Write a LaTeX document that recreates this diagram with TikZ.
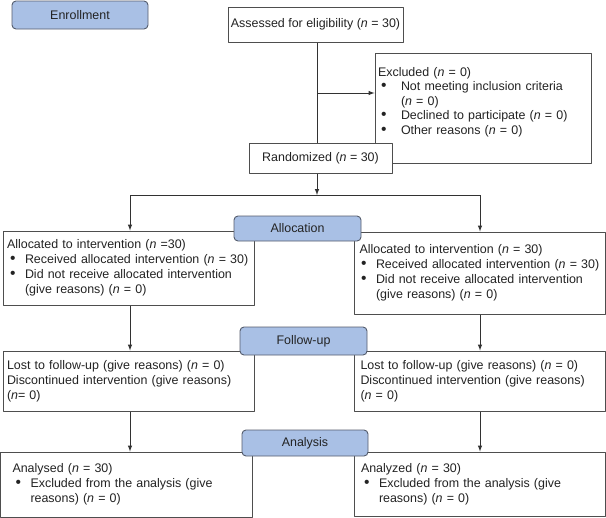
\documentclass[tikz,border=0pt]{standalone}
\usepackage{fontspec}
\setmainfont{Liberation Sans}
\definecolor{phasefill}{RGB}{169,192,229}
\definecolor{phasedraw}{RGB}{84,92,108}
\definecolor{boxdraw}{RGB}{78,78,78}
\definecolor{linkdraw}{RGB}{50,50,50}
\definecolor{textgray}{RGB}{35,35,35}
\newcommand{\nn}{\textit{n}}
\newcommand{\bul}[1][18bp]{\makebox[#1][l]{\hspace{3bp}\scalebox{1.25}{\textbullet}}}
\tikzset{
  phase/.style={draw=phasedraw,fill=phasefill,rounded corners=4bp,line width=0.9bp,inner sep=0pt},
  stage/.style={draw=boxdraw,fill=white,line width=1bp,inner ysep=0pt,align=left},
  link/.style={draw=linkdraw,line width=1bp},
}
\begin{document}
\begin{tikzpicture}[>=latex,line join=bevel,every node/.style={font=\fontsize{12.45bp}{15bp}\selectfont,text=textgray}]
\useasboundingbox (0bp,0bp) rectangle (606bp,-518bp);
%%
\node (enroll) at (80bp,-15bp) [phase,minimum width=136bp,minimum height=28bp] {Enrollment};
  \node (assessed) at (315.5bp,-24.5bp) [stage,minimum width=175bp,minimum height=35bp,inner xsep=0pt] {Assessed for eligibility (\nn{} = 30)};
  \node (excluded) at (483bp,-108bp) [stage,minimum width=216bp,minimum height=110bp,inner xsep=3bp,text width=210bp,font=\fontsize{12.45bp}{14.5bp}\selectfont] {Excluded (\nn{} = 0)\\ \bul[23bp]Not meeting inclusion criteria\\ \hspace*{23bp}(\nn{} = 0)\\ \bul[23bp]Declined to participate (\nn{} = 0)\\ \bul[23bp]Other reasons (\nn{} = 0)\\ \mbox{}};
  \node (random) at (320.5bp,-158bp) [stage,minimum width=143bp,minimum height=30bp,inner xsep=0pt] {Randomized (\nn{} = 30)};
  \node (allocL) at (128.5bp,-268bp) [stage,minimum width=251bp,minimum height=74bp,inner xsep=4bp,text width=243bp] {Allocated to intervention (\nn{} =30)\\ \bul Received allocated intervention (\nn{} = 30)\\ \bul Did not receive allocated intervention\\ \hspace*{18bp}(give reasons) (\nn{} = 0)};
  \node (allocR) at (479.5bp,-273bp) [stage,minimum width=251bp,minimum height=82bp,inner xsep=4bp,text width=243bp] {\hspace*{1.5bp}Allocated to intervention (\nn{} = 30)\\ \bul Received allocated intervention (\nn{} = 30)\\ \bul Did not receive allocated intervention\\ \hspace*{18bp}(give reasons) (\nn{} = 0)};
  \node (followL) at (128.5bp,-381bp) [stage,minimum width=251bp,minimum height=60bp,inner xsep=4bp,text width=243bp] {Lost to follow-up (give reasons) (\nn{} = 0)\\ Discontinued intervention (give reasons)\\ (\nn{}= 0)};
  \node (followR) at (479.5bp,-381bp) [stage,minimum width=251bp,minimum height=60bp,inner xsep=6.5bp,text width=238bp] {Lost to follow-up (give reasons) (\nn{} = 0)\\ Discontinued intervention (give reasons)\\ (\nn{} = 0)};
  \node (analysisL) at (126.25bp,-484.5bp) [stage,minimum width=251.5bp,minimum height=65bp,inner xsep=12bp,text width=227.5bp] {Analysed (\nn{} = 30)\\ \bul Excluded from the analysis (give\\ \hspace*{18bp}reasons) (\nn{} = 0)};
  \node (analysisR) at (479.5bp,-484bp) [stage,minimum width=251bp,minimum height=64bp,inner xsep=7bp,text width=237bp] {Analyzed (\nn{} = 30)\\ \bul Excluded from the analysis (give\\ \hspace*{18bp}reasons) (\nn{} = 0)};
%
  \coordinate (split) at (317bp,-93bp);
  \coordinate (branch) at (317bp,-195bp);
  \coordinate (branchL) at (130bp,-195bp);
  \coordinate (branchR) at (480bp,-195bp);
  \draw [link] (assessed.south -| split) -- (random.north -| split);
  \draw [link,->] (split) -- (excluded.west |- split);
  \draw [link,->] (random.south -| branch) -- (branch);
  \draw [link] (branchL) -- (branchR);
  \draw [link,->] (branchL) -- (allocL.north -| branchL);
  \draw [link,->] (branchR) -- (allocR.north -| branchR);
  \draw [link,->] (allocL.south -| branchL) -- (followL.north -| branchL);
  \draw [link,->] (allocR.south -| branchR) -- (followR.north -| branchR);
  \draw [link,->] (followL.south -| branchL) -- (analysisL.north -| branchL);
  \draw [link,->] (followR.south -| branchR) -- (analysisR.north -| branchR);
%
  \node (alloc) at (297.5bp,-228.5bp) [phase,minimum width=127bp,minimum height=25bp] {Allocation};
  \node (follow) at (303.5bp,-341bp) [phase,minimum width=127bp,minimum height=28bp] {Follow-up};
  \node (analysis) at (305bp,-443bp) [phase,minimum width=126bp,minimum height=26bp] {Analysis};
%
\end{tikzpicture}
\end{document}
